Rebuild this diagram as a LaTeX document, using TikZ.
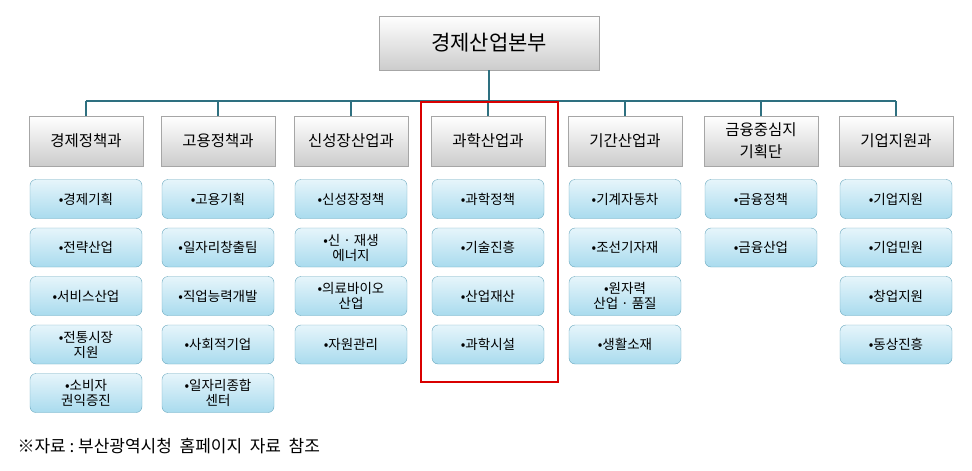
\documentclass[tikz,border=0pt]{standalone}
\usepackage{fontspec}
\setmainfont{Noto Sans CJK KR}
\definecolor{subtop}{HTML}{E6F5FB}
\definecolor{subbot}{HTML}{A9DBEE}
\definecolor{subline}{HTML}{6AA8BE}
\definecolor{bus}{HTML}{2E7080}
\begin{document}
\begin{tikzpicture}[x=1pt,y=-1pt,
 head/.style={draw=gray!70,top color=white,bottom color=gray!40,minimum width=114pt,minimum height=50pt,font=\fontsize{15.5}{18}\selectfont,align=center,inner sep=1pt},
 sub/.style={draw=subline,rounded corners=6pt,top color=subtop,bottom color=subbot,minimum width=112pt,minimum height=39pt,font=\fontsize{13.5}{15}\selectfont,align=center,inner sep=1pt},
 conn/.style={draw=bus,line width=1.8pt}]
\useasboundingbox (0,0) rectangle (972,471);
\node[head,minimum width=220pt,minimum height=54pt,font=\fontsize{21}{23}\selectfont] (top) at (489,43) {경제산업본부};
\coordinate (bus) at (489,101);
\def\cols{86/경제정책과/a,218/고용정책과/b,351/신성장산업과/c,488/과학산업과/d,625/기간산업과/e,761/{금융중심지\\[4pt]기획단}/f,896/기업지원과/g}
\foreach \x/\t/\n in \cols {\node[head] (h\n) at (\x,141) {\t};
  \coordinate (s\n) at (\x,101);}
\draw[conn] (top.south) -- (bus);
\draw[conn] (sa) -- (sg);
\foreach \n in {a,b,c,d,e,f,g} \draw[conn] (s\n) -- (h\n.north);
\def\sublist#1#2#3{\foreach \t [count=\i] in {#3} {\node[sub] (#1\i) at (#2,{199+48.5*(\i-1)}) {\t};}}
\sublist{a}{86}{•경제기획,•전략산업,•서비스산업,{•전통시장\\지원},{•소비자\\권익증진}}
\sublist{b}{218}{•고용기획,•일자리창출팀,•직업능력개발,•사회적기업,{•일자리종합\\센터}}
\sublist{c}{351}{•신성장정책,{•신 · 재생\\에너지},{•의료바이오\\산업},•자원관리}
\sublist{d}{488}{•과학정책,•기술진흥,•산업재산,•과학시설}
\sublist{e}{625}{•기계자동차,•조선기자재,{•원자력\\산업 · 품질},•생활소재}
\sublist{f}{761}{•금융정책,•금융산업}
\sublist{g}{896}{•기업지원,•기업민원,•창업지원,•동상진흥}
\node[draw=red!85!black,line width=2.2pt,minimum width=137pt,minimum height=280pt] (red) at (489.5,242) {};
\node[anchor=west,font=\fontsize{17}{19}\selectfont] (note) at (14,446) {※자료 :\ 부산광역시청\ \ 홈페이지\ \ 자료\ \ 참조};
\end{tikzpicture}
\end{document}
